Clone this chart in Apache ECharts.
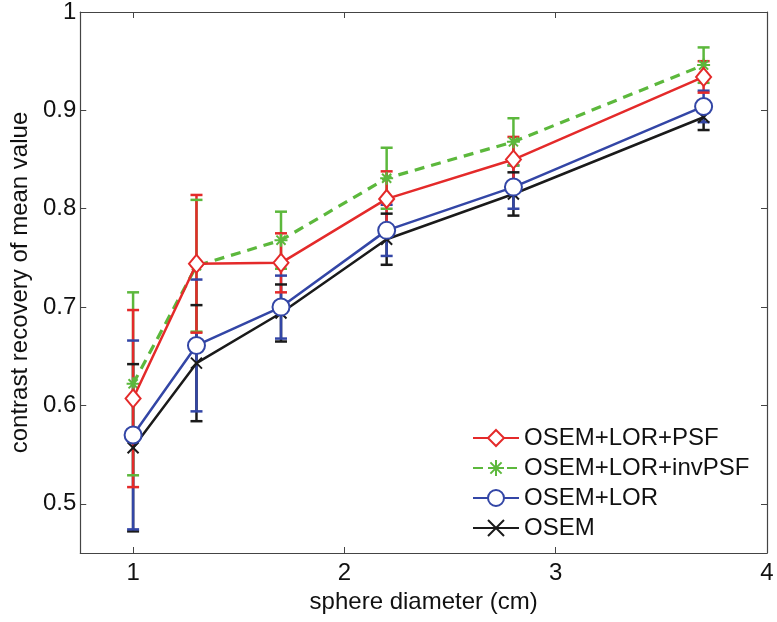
<!DOCTYPE html>
<html>
<head>
<meta charset="utf-8">
<script src="https://cdn.jsdelivr.net/npm/echarts@6/dist/echarts.min.js"></script>
<style>html,body{margin:0;padding:0;background:#fff;}#c{width:777px;height:622px;}</style>
</head>
<body>
<div id="c"></div>
<script>
// ---- data ----
var diam = [1, 1.3, 1.7, 2.2, 2.8, 3.7];
var psf = [0.607, 0.744, 0.745, 0.810, 0.850, 0.934];
var psfErr = [0.090, 0.070, 0.030, 0.028, 0.023, 0.016];
var invpsf = [0.622, 0.742, 0.768, 0.831, 0.868, 0.946];
var invpsfErr = [0.093, 0.067, 0.029, 0.031, 0.024, 0.018];
var lor = [0.570, 0.661, 0.700, 0.778, 0.822, 0.904];
var lorErr = [0.096, 0.067, 0.032, 0.026, 0.022, 0.016];
var osem = [0.557, 0.643, 0.694, 0.769, 0.815, 0.893];
var osemErr = [0.085, 0.059, 0.029, 0.026, 0.022, 0.013];
var seriesNames = ['OSEM+LOR+PSF', 'OSEM+LOR+invPSF', 'OSEM+LOR', 'OSEM'];
var xTicks = [1, 2, 3, 4];
var yTicks = [0.5, 0.6, 0.7, 0.8, 0.9, 1];

var FONT = 'Liberation Sans, Arial, sans-serif';
var colRed = '#e42a2a', colGreen = '#5cb83c', colBlue = '#3346a6', colBlack = '#1a1a1a';
var xPath = 'path://M0,0L1,1M1,0L0,1';
var starPath = 'path://M0,-1L0,1M-1,0L1,0M-0.7,-0.7L0.7,0.7M-0.7,0.7L0.7,-0.7';

function pts(vals){ return diam.map(function(d,i){ return [d, vals[i]]; }); }
function errPts(vals, errs){ return diam.map(function(d,i){ return [d, vals[i]-errs[i], vals[i]+errs[i]]; }); }

function errSeries(name, vals, errs, color, rank){
  return {
    type: 'custom', name: name, z: 2, silent: true,
    data: errPts(vals, errs),
    encode: {x: 0, y: [1, 2]},
    renderItem: function(params, api){
      var x = api.value(0), lo = api.value(1), hi = api.value(2);
      var p1 = api.coord([x, lo]), p2 = api.coord([x, hi]);
      var w = 6;
      var st = {stroke: color, lineWidth: 2.5};
      return {type: 'group', children: [
        {type: 'line', z2: rank, shape: {x1: p1[0], y1: p1[1], x2: p2[0], y2: p2[1]}, style: st},
        {type: 'line', z2: 10 + rank, shape: {x1: p1[0]-w, y1: p1[1], x2: p1[0]+w, y2: p1[1]}, style: st},
        {type: 'line', z2: 10 + rank, shape: {x1: p2[0]-w, y1: p2[1], x2: p2[0]+w, y2: p2[1]}, style: st}
      ]};
    }
  };
}

var chart = echarts.init(document.getElementById('c'), null, {renderer: 'canvas'});
var axisLineStyle = {color: '#444', width: 1.2};
chart.setOption({
  animation: false,
  backgroundColor: '#fff',
  textStyle: {fontFamily: FONT},
  grid: {left: 80, right: 10, top: 12, bottom: 69, containLabel: false},
  legend: {
    orient: 'vertical', left: 472, top: 426, padding: 0,
    itemWidth: 46, itemHeight: 20, itemGap: 6,
    data: seriesNames,
    textStyle: {fontFamily: FONT, fontSize: 24, color: '#111', lineHeight: 24}
  },
  xAxis: [{
    type: 'value', min: 0.75, max: 4, position: 'bottom',
    name: 'sphere diameter (cm)', nameLocation: 'middle', nameGap: 33,
    nameTextStyle: {fontFamily: FONT, fontSize: 24, color: '#111'},
    axisLine: {show: true, onZero: false, lineStyle: axisLineStyle},
    axisTick: {show: true, inside: true, length: 6, customValues: xTicks, lineStyle: {color: '#444'}},
    axisLabel: {show: true, customValues: xTicks, margin: 8, fontFamily: FONT, fontSize: 24, color: '#111'},
    splitLine: {show: false}
  }, {
    type: 'value', min: 0.75, max: 4, position: 'top',
    axisLine: {show: true, onZero: false, lineStyle: axisLineStyle},
    axisTick: {show: true, inside: true, length: 6, customValues: xTicks, lineStyle: {color: '#444'}},
    axisLabel: {show: false},
    splitLine: {show: false}
  }],
  yAxis: [{
    type: 'value', min: 0.45, max: 1, position: 'left',
    name: 'contrast recovery of mean value', nameLocation: 'middle', nameGap: 46,
    nameTextStyle: {fontFamily: FONT, fontSize: 24, color: '#111'},
    axisLine: {show: true, onZero: false, lineStyle: axisLineStyle},
    axisTick: {show: true, inside: true, length: 6, customValues: yTicks, lineStyle: {color: '#444'}},
    axisLabel: {show: true, customValues: yTicks, margin: 4, fontFamily: FONT, fontSize: 24, color: '#111',
      formatter: function(v){ return String(Math.round(v*10)/10); }},
    splitLine: {show: false}
  }, {
    type: 'value', min: 0.45, max: 1, position: 'right',
    axisLine: {show: true, onZero: false, lineStyle: axisLineStyle},
    axisTick: {show: true, inside: true, length: 6, customValues: yTicks, lineStyle: {color: '#444'}},
    axisLabel: {show: false},
    splitLine: {show: false}
  }],
  series: [
    errSeries('err-osem', osem, osemErr, colBlack, 1),
    errSeries('err-lor', lor, lorErr, colBlue, 2),
    errSeries('err-invpsf', invpsf, invpsfErr, colGreen, 3),
    errSeries('err-psf', psf, psfErr, colRed, 4),
    {
      type: 'line', name: seriesNames[3], z: 3, data: pts(osem),
      symbol: xPath, symbolSize: 11, showAllSymbol: true,
      lineStyle: {color: colBlack, width: 2.5},
      itemStyle: {color: colBlack, borderColor: colBlack, borderWidth: 2}
    },
    {
      type: 'line', name: seriesNames[2], z: 4, data: pts(lor),
      symbol: 'emptyCircle', symbolSize: 17,
      lineStyle: {color: colBlue, width: 2.5},
      itemStyle: {color: colBlue, borderColor: colBlue, borderWidth: 2.5}
    },
    {
      type: 'line', name: seriesNames[1], z: 5, data: pts(invpsf),
      symbol: starPath, symbolSize: 13,
      lineStyle: {color: colGreen, width: 3.2, type: [10, 7]},
      itemStyle: {color: colGreen, borderColor: colGreen, borderWidth: 2}
    },
    {
      type: 'line', name: seriesNames[0], z: 6, data: pts(psf),
      symbol: 'emptyDiamond', symbolSize: [15, 18],
      lineStyle: {color: colRed, width: 2.5},
      itemStyle: {color: colRed, borderColor: colRed, borderWidth: 2.5}
    }
  ]
});
</script>
</body>
</html>
